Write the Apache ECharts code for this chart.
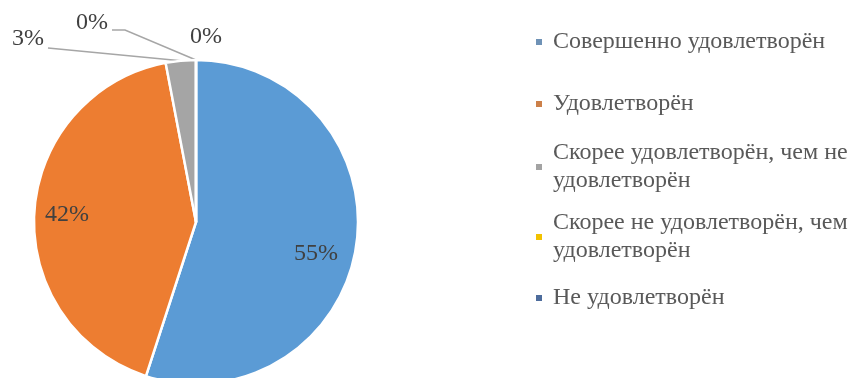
<!DOCTYPE html>
<html>
<head>
<meta charset="utf-8">
<script src="https://cdn.jsdelivr.net/npm/echarts@6/dist/echarts.min.js"></script>
<style>html,body{margin:0;padding:0;background:#fff}#c{width:854px;height:378px}</style>
</head>
<body>
<div id="c"></div>
<script>
const categories = ['Совершенно удовлетворён', 'Удовлетворён', 'Скорее удовлетворён, чем не удовлетворён', 'Скорее не удовлетворён, чем удовлетворён', 'Не удовлетворён'];
const values = [55, 42, 3, 0, 0];
const legendText = ['Совершенно удовлетворён', 'Удовлетворён', 'Скорее удовлетворён, чем не\nудовлетворён', 'Скорее не удовлетворён, чем\nудовлетворён', 'Не удовлетворён'];

const colors = ['#5B9BD5', '#ED7D31', '#A5A5A5', '#FFC000', '#4472C4'];
const legendColors = ['#6f92b6', '#cc8049', '#a3a3a3', '#f2c200', '#4d6c9c'];
const FONT = 'Liberation Serif';
const center = [196, 222];
const radius = 162;
const L = 28;
const legendCenters = [42, 104, 167, 237, 298];

const legends = categories.map((name, i) => {
  const two = legendText[i].indexOf('\n') >= 0;
  return {
    orient: 'vertical',
    left: 534,
    top: two ? legendCenters[i] - 1.5 * L : legendCenters[i] - L / 2,
    padding: 0,
    itemWidth: 8,
    itemHeight: 8,
    icon: 'rect',
    selectedMode: false,
    data: [{
      name: name,
      itemStyle: { color: legendColors[i] },
      textStyle: two ? { padding: [L, 0, 0, 5] } : { padding: [0, 0, 0, 5] }
    }],
    formatter: n => legendText[categories.indexOf(n)],
    textStyle: { fontFamily: FONT, fontSize: 24, lineHeight: L, color: '#595959' }
  };
});

const labelPos = {
  0: { x: 316, y: 254 },
  1: { x: 67, y: 215 },
  2: { x: 28, y: 39, line: [[100, 53], [48, 48]] },
  3: { x: 92, y: 23, line: [[125, 30], [112, 30]] },
  4: { x: 206, y: 37 }
};

const chart = echarts.init(document.getElementById('c'), null, { renderer: 'canvas' });
chart.setOption({
  animation: false,
  color: colors,
  legend: legends,
  series: [{
    type: 'pie',
    center: center,
    radius: radius,
    startAngle: 90,
    clockwise: true,
    avoidLabelOverlap: false,
    itemStyle: { borderColor: '#fff', borderWidth: 2.5 },
    label: {
      formatter: p => Math.round(p.percent) + '%',
      fontFamily: FONT, fontSize: 24, color: '#404040'
    },
    labelLine: { lineStyle: { color: '#a6a6a6', width: 1.5 }, smooth: false },
    data: categories.map((name, i) => ({
      name: name,
      value: values[i],
      label: { position: i < 2 ? 'inside' : 'outside' },
      labelLine: { show: i === 2 || i === 3 }
    })),
    labelLayout: function (p) {
      const o = labelPos[p.dataIndex];
      const res = { x: o.x, y: o.y, align: 'center', verticalAlign: 'middle' };
      if (o.line) {
        const start = (p.labelLinePoints && p.labelLinePoints[0]) || [center[0], center[1] - radius];
        res.labelLinePoints = [start, o.line[0], o.line[1]];
      }
      return res;
    }
  }]
});
</script>
</body>
</html>
